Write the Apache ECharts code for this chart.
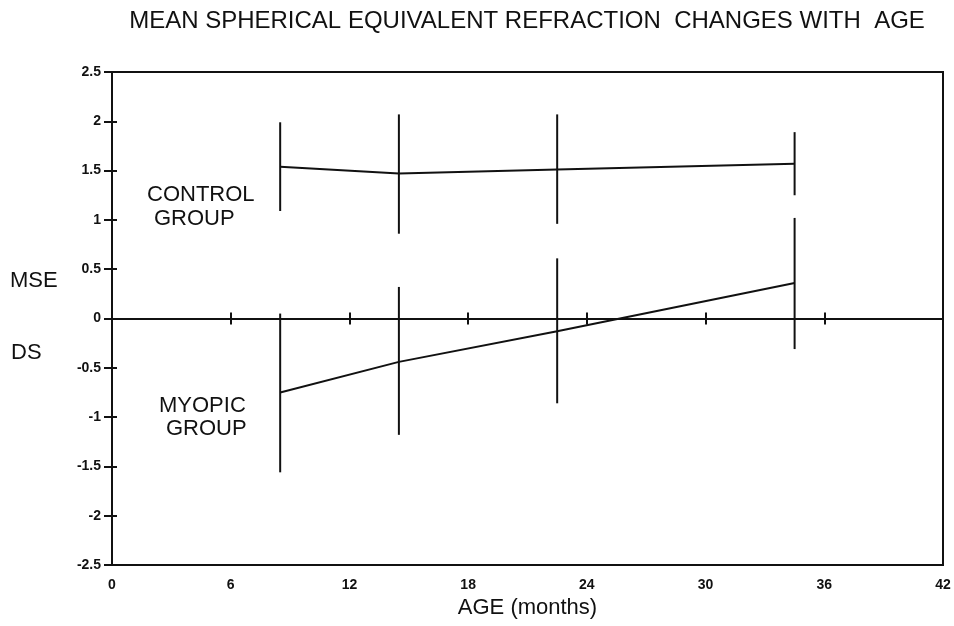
<!DOCTYPE html>
<html>
<head>
<meta charset="utf-8">
<script src="https://cdn.jsdelivr.net/npm/echarts@6/dist/echarts.min.js"></script>
<style>
  html, body { margin: 0; padding: 0; background: #fff; }
  #chart { width: 954px; height: 626px; }
</style>
</head>
<body>
<div id="chart"></div>
<script>
// Age at each examination (months)
var ages = [8.5, 14.5, 22.5, 34.5];

// Control group: mean spherical equivalent and spread (D)
var controlMean = [1.54, 1.47, 1.51, 1.57];
var controlHigh = [1.99, 2.07, 2.07, 1.89];
var controlLow  = [1.09, 0.86, 0.96, 1.25];

// Myopic group: mean spherical equivalent and spread (D)
var myopicMean = [-0.75, -0.44, -0.13, 0.36];
var myopicHigh = [0.05, 0.32, 0.61, 1.02];
var myopicLow  = [-1.56, -1.18, -0.86, -0.31];

// Axis ticks
var xTicks = [0, 6, 12, 18, 24, 30, 36, 42];
var yTicks = [-2.5, -2, -1.5, -1, -0.5, 0, 0.5, 1, 1.5, 2, 2.5];

var FONT = '"Liberation Sans", Arial, Helvetica, sans-serif';
var INK = '#111';

function pairs(xs, ys) {
  return xs.map(function (x, i) { return [x, ys[i]]; });
}
function bars(xs, lo, hi) {
  return xs.map(function (x, i) { return [x, lo[i], hi[i]]; });
}

// vertical spread bar from low to high at each age
function renderBar(params, api) {
  var p1 = api.coord([api.value(0), api.value(1)]);
  var p2 = api.coord([api.value(0), api.value(2)]);
  return {
    type: 'line',
    shape: { x1: p1[0], y1: p1[1], x2: p2[0], y2: p2[1] },
    style: { stroke: INK, lineWidth: 2 }
  };
}

var xMin = xTicks[0], xMax = xTicks[xTicks.length - 1];
var xStep = xTicks[1] - xTicks[0];
var yMin = yTicks[0], yMax = yTicks[yTicks.length - 1];
var yStep = yTicks[1] - yTicks[0];

// the zero reference line, ticked on both sides
var zeroAxis = function (inside) {
  return {
    type: 'value', min: xMin, max: xMax, interval: xStep,
    axisLine: { show: true, onZero: true, onZeroAxisIndex: 0, lineStyle: { color: INK, width: 2 } },
    axisTick: { show: true, inside: inside, length: 6, lineStyle: { color: INK, width: 2 } },
    axisLabel: { show: false },
    splitLine: { show: false }
  };
};

var chart = echarts.init(document.getElementById('chart'), null, { renderer: 'canvas' });

chart.setOption({
  animation: false,
  backgroundColor: '#fff',
  title: {
    text: 'MEAN SPHERICAL EQUIVALENT REFRACTION  CHANGES WITH  AGE',
    left: 522, top: 4, textAlign: 'center',
    textStyle: { fontFamily: FONT, fontSize: 24, fontWeight: 'normal', color: INK }
  },
  grid: {
    left: 112, right: 11, top: 72, bottom: 61,
    show: true, borderColor: INK, borderWidth: 2, backgroundColor: 'transparent'
  },
  xAxis: [
    {
      type: 'value', min: xMin, max: xMax, interval: xStep, position: 'bottom',
      name: 'AGE (months)', nameLocation: 'middle', nameGap: 32,
      nameTextStyle: { fontFamily: FONT, fontSize: 22, color: INK },
      axisLine: { show: true, onZero: false, lineStyle: { color: INK, width: 2 } },
      axisTick: { show: false },
      axisLabel: { fontFamily: FONT, fontSize: 14, fontWeight: 'bold', color: INK, margin: 13 },
      splitLine: { show: false }
    },
    zeroAxis(true),
    zeroAxis(false)
  ],
  yAxis: [
    {
      type: 'value', min: yMin, max: yMax, interval: yStep, position: 'left',
      axisLine: { show: true, onZero: false, lineStyle: { color: INK, width: 2 } },
      axisTick: { show: true, inside: false, length: 8, lineStyle: { color: INK, width: 2 } },
      axisLabel: { fontFamily: FONT, fontSize: 14, fontWeight: 'bold', color: INK, margin: 11 },
      splitLine: { show: false }
    },
    {
      type: 'value', min: yMin, max: yMax, interval: yStep, position: 'left',
      axisLine: { show: false, onZero: false },
      axisTick: { show: true, inside: true, length: 5, lineStyle: { color: INK, width: 2 } },
      axisLabel: { show: false },
      splitLine: { show: false }
    }
  ],
  graphic: [
    { type: 'text', left: 10, top: 270, style: { text: 'MSE', font: '22px ' + FONT, fill: INK } },
    { type: 'text', left: 11, top: 342, style: { text: 'DS', font: '22px ' + FONT, fill: INK } },
    { type: 'text', left: 147, top: 184, style: { text: 'CONTROL', font: '22px ' + FONT, fill: INK } },
    { type: 'text', left: 154, top: 208, style: { text: 'GROUP', font: '22px ' + FONT, fill: INK } },
    { type: 'text', left: 159, top: 395, style: { text: 'MYOPIC', font: '22px ' + FONT, fill: INK } },
    { type: 'text', left: 166, top: 418, style: { text: 'GROUP', font: '22px ' + FONT, fill: INK } }
  ],
  series: [
    {
      name: 'Control', type: 'line', xAxisIndex: 0, yAxisIndex: 0,
      data: pairs(ages, controlMean), symbol: 'none',
      lineStyle: { color: INK, width: 2 }
    },
    {
      name: 'Myopic', type: 'line', xAxisIndex: 0, yAxisIndex: 0,
      data: pairs(ages, myopicMean), symbol: 'none',
      lineStyle: { color: INK, width: 2 }
    },
    {
      name: 'Control spread', type: 'custom', xAxisIndex: 0, yAxisIndex: 0,
      renderItem: renderBar, data: bars(ages, controlLow, controlHigh)
    },
    {
      name: 'Myopic spread', type: 'custom', xAxisIndex: 0, yAxisIndex: 0,
      renderItem: renderBar, data: bars(ages, myopicLow, myopicHigh)
    }
  ]
});
</script>
</body>
</html>
